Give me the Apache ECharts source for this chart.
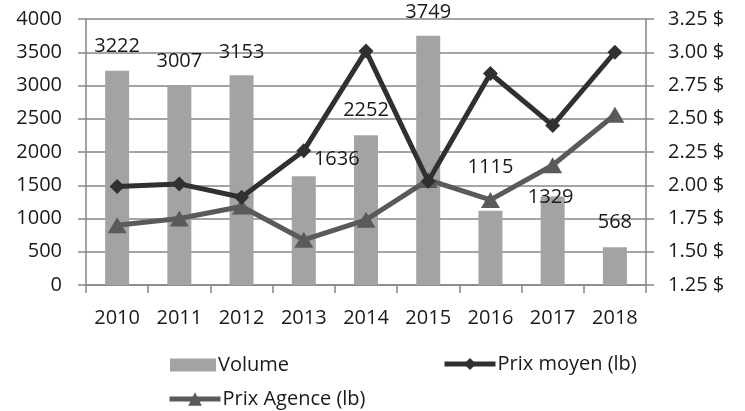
<!DOCTYPE html>
<html>
<head>
<meta charset="utf-8">
<script src="https://cdn.jsdelivr.net/npm/echarts@6/dist/echarts.min.js"></script>
<style>
html,body{margin:0;padding:0;background:#fff;}
#c{width:745px;height:411px;}
</style>
</head>
<body>
<div id="c"></div>
<script>
// ---- data ----
const categories = ['2010','2011','2012','2013','2014','2015','2016','2017','2018'];
const volume = [3222, 3007, 3153, 1636, 2252, 3749, 1115, 1329, 568];
const prixMoyen = [1.99, 2.01, 1.91, 2.26, 3.01, 2.03, 2.84, 2.45, 3.00];
const prixAgence = [1.70, 1.75, 1.84, 1.59, 1.74, 2.04, 1.89, 2.15, 2.53];
const leftTicks = {min: 0, max: 4000, interval: 500};
const rightTicks = {min: 1.25, max: 3.25, interval: 0.25};

// label offsets (styling only)
const labelOffsets = [[0,-9],[0,-9],[0,-8],[33,-2],[0,-10],[0,-8],[0,-29],[-2,16],[0,-10]];

const FONT = 'Open Sans';
const FS = 20;
const chart = echarts.init(document.getElementById('c'), null, {renderer: 'canvas'});

const volData = volume.map((v, i) => ({
  value: v,
  label: {offset: labelOffsets[i]}
}));

const axisGray = '#868686';
const txt = '#1a1a1a';

chart.setOption({
  animation: false,
  backgroundColor: '#fff',
  textStyle: {fontFamily: FONT},
  grid: {left: 86, right: 99, top: 19, bottom: 126, containLabel: false},
  legend: [
    {data: [{name: 'Volume', icon: 'rect'}], left: 165, top: 350, itemWidth: 46, itemHeight: 13, itemGap: 6,
     textStyle: {fontSize: FS, color: txt, fontFamily: FONT, padding: [0,0,0,-3]}},
    {data: ['Prix moyen (lb)'], left: 437, top: 349, itemWidth: 51, itemHeight: 15, itemGap: 2,
     lineStyle: {width: 5},
     textStyle: {fontSize: FS, color: txt, fontFamily: FONT, padding: [0,0,0,-3]}},
    {data: ['Prix Agence (lb)'], left: 162, top: 384, itemWidth: 51, itemHeight: 17, itemGap: 2,
     lineStyle: {width: 5},
     textStyle: {fontSize: FS, color: txt, fontFamily: FONT, padding: [0,0,0,-3]}}
  ],
  xAxis: {
    type: 'category',
    data: categories,
    boundaryGap: true,
    axisLine: {show: true, lineStyle: {color: axisGray, width: 1.5}},
    axisTick: {show: true, length: 8, lineStyle: {color: axisGray, width: 1.5}},
    axisLabel: {color: txt, fontSize: FS, fontFamily: FONT, margin: 23},
    splitLine: {show: false}
  },
  yAxis: [
    {
      type: 'value', position: 'left',
      min: leftTicks.min, max: leftTicks.max, interval: leftTicks.interval,
      axisLine: {show: true, lineStyle: {color: axisGray, width: 1.5}},
      axisTick: {show: true, length: 8, lineStyle: {color: axisGray, width: 1.5}},
      axisLabel: {color: txt, fontSize: FS, fontFamily: FONT, margin: 24,
        formatter: v => String(v)},
      splitLine: {show: true, lineStyle: {color: axisGray, width: 1.5}}
    },
    {
      type: 'value', position: 'right',
      min: rightTicks.min, max: rightTicks.max, interval: rightTicks.interval,
      axisLine: {show: true, lineStyle: {color: axisGray, width: 1.5}},
      axisTick: {show: true, length: 8, lineStyle: {color: axisGray, width: 1.5}},
      axisLabel: {color: txt, fontSize: FS, fontFamily: FONT, margin: 22,
        formatter: v => v.toFixed(2) + ' $'},
      splitLine: {show: false}
    }
  ],
  series: [
    {
      name: 'Volume', type: 'bar', yAxisIndex: 0,
      data: volData, barWidth: 24,
      itemStyle: {color: '#a3a3a3'},
      label: {show: true, position: 'top', distance: 5, color: txt, fontSize: FS, fontFamily: FONT},
      z: 2
    },
    {
      name: 'Prix moyen (lb)', type: 'line', yAxisIndex: 1,
      data: prixMoyen,
      symbol: 'diamond', symbolSize: 15,
      lineStyle: {color: '#303030', width: 5},
      itemStyle: {color: '#303030'},
      z: 4
    },
    {
      name: 'Prix Agence (lb)', type: 'line', yAxisIndex: 1,
      data: prixAgence,
      symbol: 'triangle', symbolSize: [19, 16],
      lineStyle: {color: '#5a5a5a', width: 5},
      itemStyle: {color: '#5a5a5a'},
      z: 3
    }
  ]
});
</script>
</body>
</html>
